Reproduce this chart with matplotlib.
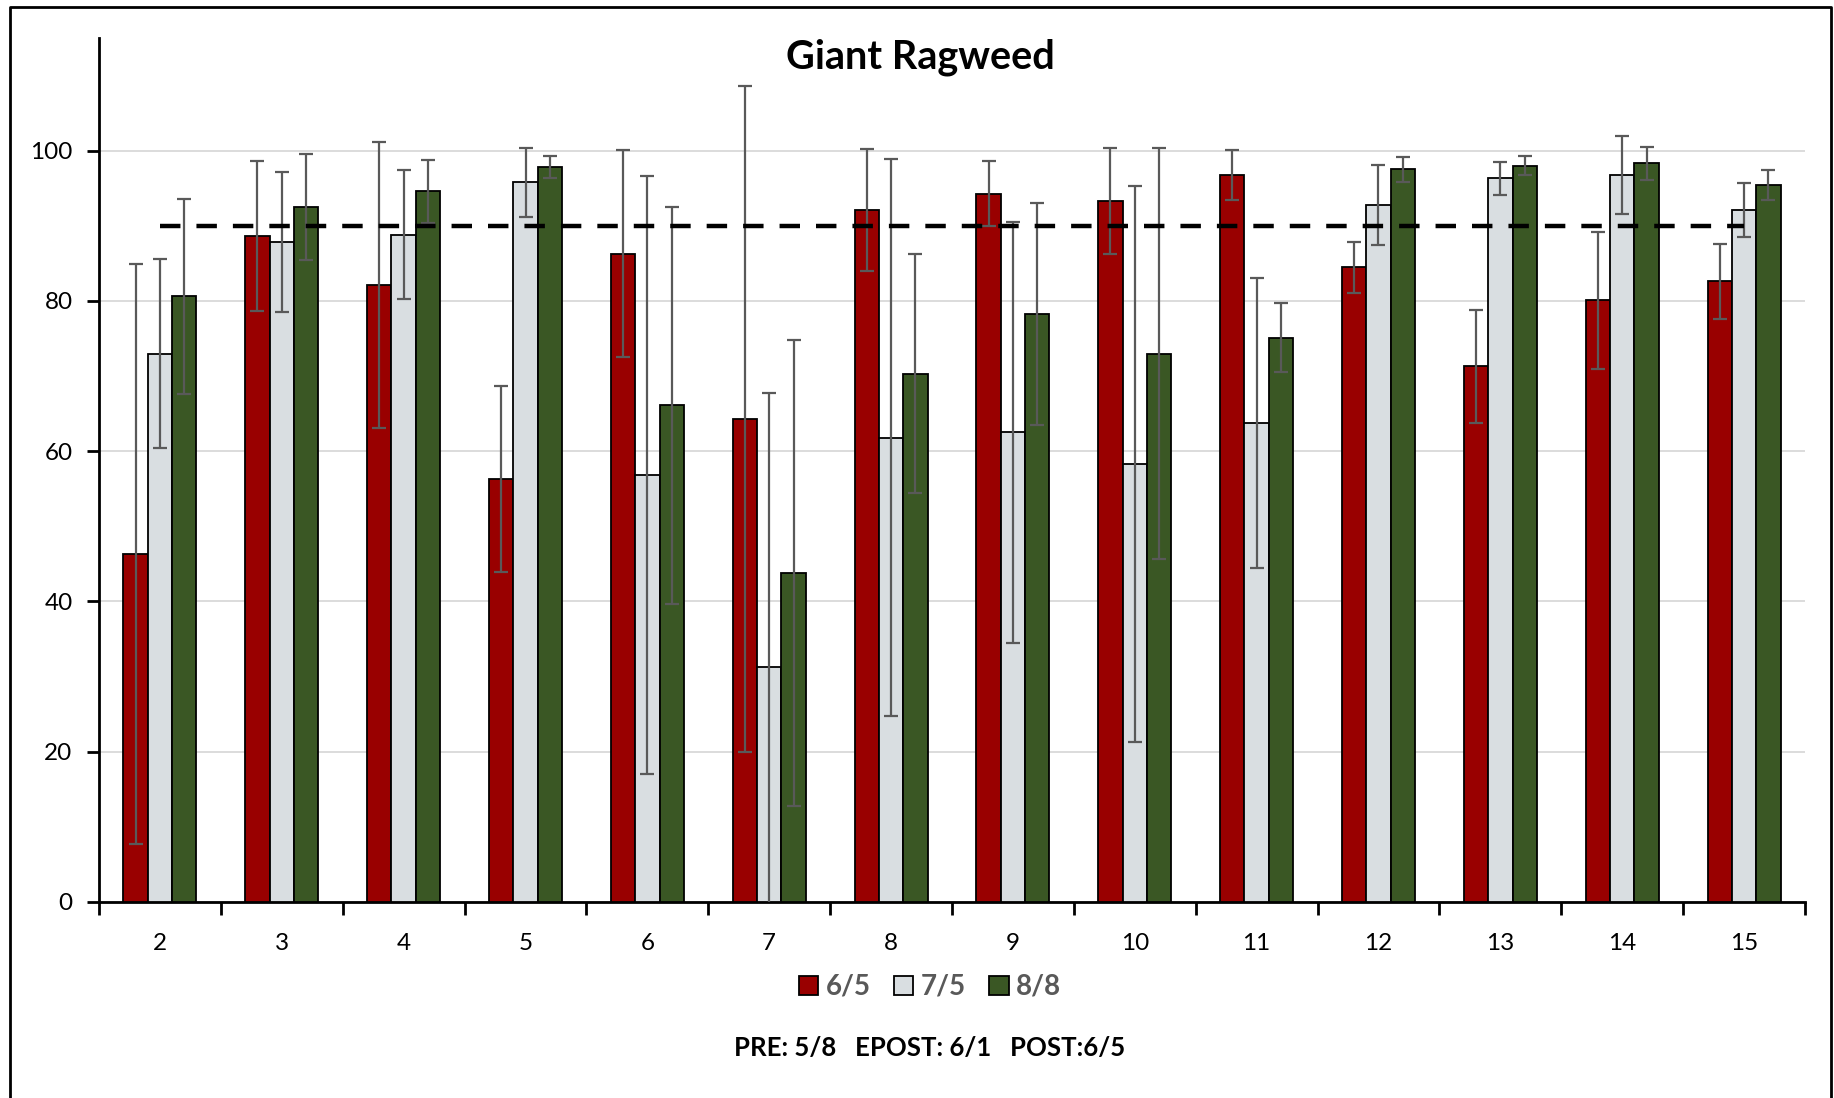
import numpy as np
import matplotlib
matplotlib.use("Agg")
import matplotlib.pyplot as plt
from matplotlib.lines import Line2D
from matplotlib.patches import Patch

plt.rcParams['font.family'] = ['Lato', 'DejaVu Sans']

categories = ["2", "3", "4", "5", "6", "7", "8", "9", "10", "11", "12", "13", "14", "15"]
series_names = ["6/5", "7/5", "8/8"]

mean_65 = [46.3, 88.6, 82.1, 56.3, 86.3, 64.3, 92.1, 94.3, 93.3, 96.8, 84.5, 71.3, 80.1, 82.6]
err_65 = [38.6, 10.0, 19.0, 12.4, 13.8, 44.3, 8.1, 4.3, 7.0, 3.3, 3.4, 7.5, 9.1, 5.0]

mean_75 = [73.0, 87.8, 88.8, 95.8, 56.8, 31.3, 61.8, 62.5, 58.3, 63.8, 92.8, 96.3, 96.8, 92.1]
err_75 = [12.6, 9.3, 8.6, 4.6, 39.8, 36.5, 37.1, 28.0, 37.0, 19.3, 5.3, 2.2, 5.2, 3.6]

mean_88 = [80.6, 92.5, 94.6, 97.8, 66.1, 43.8, 70.3, 78.3, 73.0, 75.1, 97.5, 98.0, 98.3, 95.4]
err_88 = [13.0, 7.0, 4.2, 1.5, 26.4, 31.0, 15.9, 14.8, 27.3, 4.6, 1.7, 1.3, 2.2, 2.0]

threshold = 90
title = "Giant Ragweed"
footer = "PRE: 5/8   EPOST: 6/1   POST:6/5"

colors = ["#990000", "#D9DEE1", "#3A5724"]

fig = plt.figure(figsize=(18.34, 10.98), dpi=100)
ax = fig.add_axes([99 / 1834, 1 - 902 / 1098, (1805 - 99) / 1834, (902 - 38) / 1098])

x = np.arange(len(categories))
width = 0.2
means = [mean_65, mean_75, mean_88]
errs = [err_65, err_75, err_88]
for i, (m, e, c, name) in enumerate(zip(means, errs, colors, series_names)):
    ax.bar(x + (i - 1) * width, m, width, color=c, edgecolor="black", linewidth=1.3,
           label=name, zorder=3)
    ax.errorbar(x + (i - 1) * width, m, yerr=e, fmt="none", ecolor="#595959",
                elinewidth=1.6, capsize=5, capthick=1.6, zorder=4)

ax.plot([x[0], x[-1]], [threshold, threshold], color="black", linestyle=(0, (4.6, 3.6)),
        linewidth=3.2, zorder=5)

ax.set_xlim(-0.5, len(categories) - 0.5)
ax.set_ylim(0, 115)
ax.set_yticks([0, 20, 40, 60, 80, 100])
ax.yaxis.grid(True, color="#D9D9D9", linewidth=1.3, zorder=0)
ax.set_axisbelow(True)

ax.set_xticks(x)
ax.set_xticklabels(categories)
ax.set_xticks(np.arange(-0.5, len(categories), 1.0), minor=True)
ax.tick_params(axis="x", which="major", length=0, pad=22, labelsize=17.5)
ax.tick_params(axis="x", which="minor", length=9, width=2, direction="out")
ax.tick_params(axis="y", length=9, width=2, direction="out", pad=10, labelsize=17.5)

for s in ["top", "right"]:
    ax.spines[s].set_visible(False)
ax.spines["left"].set_linewidth(2)
ax.spines["bottom"].set_linewidth(2)

fig.text(0.502, 1 - 57 / 1098, title, ha="center", va="center", fontsize=28.5,
         fontweight="bold")

handles = [Patch(facecolor=c, edgecolor="black", linewidth=1.3) for c in colors]
leg = fig.legend(handles, series_names, loc="center", bbox_to_anchor=(0.507, 1 - 987 / 1098),
                 ncol=3, frameon=False, handlelength=0.7, handleheight=0.7,
                 handletextpad=0.25, columnspacing=0.85,
                 prop={"size": 20, "weight": "bold"})
for t in leg.get_texts():
    t.set_color("#595959")

fig.text(0.507, 1 - 1048 / 1098, footer, ha="center", va="center", fontsize=18.5,
         fontweight="bold")

# outer frame around the chart area
fx0, fx1, fy1 = 10 / 1834, 1831 / 1834, 1 - 7 / 1098
fig.add_artist(Line2D([fx0, fx0, fx1, fx1], [-0.01, fy1, fy1, -0.01],
                      transform=fig.transFigure, color="black", linewidth=2))

fig.savefig("out.png", dpi=100)
